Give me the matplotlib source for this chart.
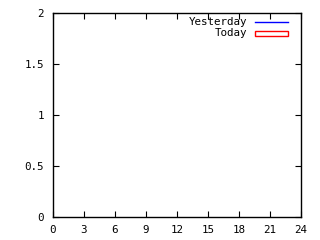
import matplotlib
matplotlib.use('Agg')
import matplotlib.pyplot as plt
from matplotlib.lines import Line2D
from matplotlib.patches import Rectangle

# data (both series are empty in the reference)
hours_yesterday = []
values_yesterday = []
hours_today = []
values_today = []

x_ticks = [0, 3, 6, 9, 12, 15, 18, 21, 24]
y_ticks = [0, 0.5, 1, 1.5, 2]
y_labels = ['0', '0.5', '1', '1.5', '2']
series_names = ['Yesterday', 'Today']

W, H = 320, 240
plt.rcParams['font.family'] = 'DejaVu Sans Mono'
fig = plt.figure(figsize=(3.2, 2.4), dpi=100)
ax = fig.add_axes([52.5 / W, 1 - 217 / H, (301 - 52.5) / W, (217 - 13) / H])

ax.plot(hours_yesterday, values_yesterday, color='#0000ff', lw=1)
ax.bar(hours_today, values_today, facecolor='white', edgecolor='#ff0000')

ax.set_xlim(0, 24)
ax.set_ylim(0, 2)
ax.set_xticks(x_ticks)
ax.set_yticks(y_ticks)
ax.set_yticklabels(y_labels)
ax.tick_params(direction='in', length=4, width=0.8, labelsize=7.8,
               top=True, right=True)
ax.tick_params(axis='y', pad=6)
ax.tick_params(axis='x', pad=6)
for s in ax.spines.values():
    s.set_linewidth(1)

# gnuplot style key: text right aligned, sample to the right
fs = 7.8
fig.text(247.5 / W, 1 - 22 / H, series_names[0], ha='right', va='center', fontsize=fs)
fig.text(247.5 / W, 1 - 33.5 / H, series_names[1], ha='right', va='center', fontsize=fs)
fig.add_artist(Line2D([255 / W, 288 / W], [1 - 22 / H, 1 - 22 / H],
                      color='#0000ff', lw=1, transform=fig.transFigure))
fig.add_artist(Rectangle((255 / W, 1 - 35.5 / H), 33 / W, 4.5 / H,
                         facecolor='white', edgecolor='#ff0000', lw=1,
                         transform=fig.transFigure))

fig.savefig('out.png', dpi=100)
